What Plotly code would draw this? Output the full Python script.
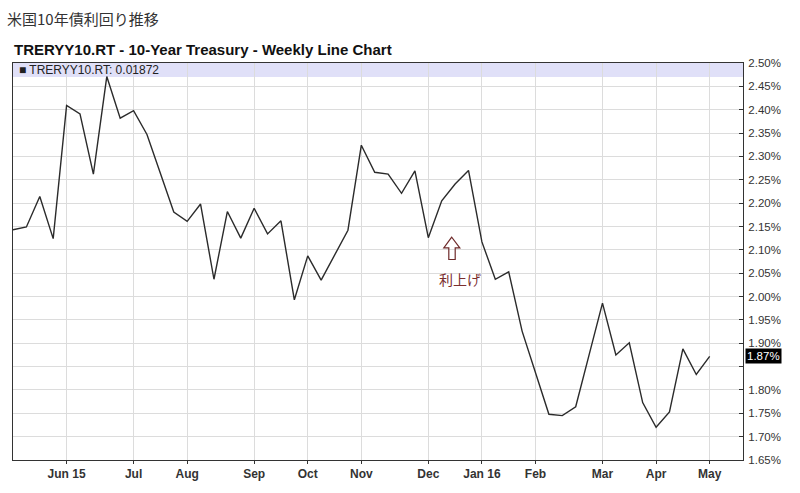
import pandas as pd
import plotly.graph_objects as go

# ---- data ----
start_week = "2015-05-04"
yields = [2.143, 2.149, 2.214, 2.124, 2.409, 2.391, 2.262, 2.471, 2.382, 2.398,
          2.347, 2.265, 2.181, 2.161, 2.198, 2.037, 2.182, 2.125, 2.189, 2.134,
          2.162, 1.993, 2.087, 2.035, 2.090, 2.142, 2.324, 2.266, 2.262, 2.221,
          2.269, 2.126, 2.205, 2.241, 2.270, 2.117, 2.037, 2.053, 1.926, 1.838,
          1.748, 1.745, 1.764, 1.875, 1.986, 1.875, 1.901, 1.773, 1.720, 1.753,
          1.888, 1.833, 1.872]
dates = pd.date_range(start_week, periods=len(yields), freq="7D")

tick_dates = ["2015-06-01", "2015-07-06", "2015-08-03", "2015-09-07", "2015-10-05",
              "2015-11-02", "2015-12-07", "2016-01-04", "2016-02-01", "2016-03-07",
              "2016-04-04", "2016-05-02"]
tick_labels = ["Jun 15", "Jul", "Aug", "Sep", "Oct", "Nov", "Dec", "Jan 16",
               "Feb", "Mar", "Apr", "May"]

y_ticks = [round(1.65 + 0.05 * i, 2) for i in range(18)]
y_labels = ["" if abs(v - 1.85) < 1e-9 else f"{v:.2f}%" for v in y_ticks]

main_title = "米国10年債利回り推移"
chart_title = "TRERYY10.RT - 10-Year Treasury - Weekly Line Chart"
legend_text = "■ TRERYY10.RT: 0.01872"
note_text = "利上げ"
last_val = yields[-1]

# ---- figure ----
W, H = 800, 493
L, R, T, B = 13, 57, 63, 30
pw, ph = W - L - R, H - T - B

def px(x):
    return (x - L) / pw

def py(y):
    return (H - B - y) / ph

fig = go.Figure()
fig.add_trace(go.Scatter(x=dates, y=yields, mode="lines",
                         line=dict(color="#2b2b2b", width=1.4),
                         hoverinfo="x+y", showlegend=False))

font_family = "Liberation Sans, Arial, sans-serif"

fig.update_layout(
    width=W, height=H,
    margin=dict(l=L, r=R, t=T, b=B),
    paper_bgcolor="white", plot_bgcolor="white",
    showlegend=False,
    font=dict(family=font_family, color="#222"),
    xaxis=dict(
        type="date",
        range=["2015-05-04", "2016-05-19 10:00"],
        tickmode="array", tickvals=tick_dates, ticktext=tick_labels,
        tickfont=dict(size=12, family=font_family, color="#333", weight="bold"),
        ticks="outside", ticklen=3, tickcolor="#333",
        showgrid=True, gridcolor="#dcdcdc", gridwidth=1,
        showline=True, linecolor="#333", linewidth=1, mirror=True,
        zeroline=False,
    ),
    yaxis=dict(
        side="right",
        range=[1.65, 2.50],
        tickmode="array", tickvals=y_ticks, ticktext=y_labels,
        tickfont=dict(size=11.5, family=font_family, color="#333"),
        ticks="inside", ticklen=4, tickcolor="#333",
        ticklabelstandoff=2,
        showgrid=True, gridcolor="#dcdcdc", gridwidth=1,
        showline=True, linecolor="#333", linewidth=1, mirror=True,
        zeroline=False,
    ),
    shapes=[
        dict(type="rect", xref="paper", yref="paper",
             x0=0, x1=1, y0=1 - 14 / ph, y1=1,
             fillcolor="#e0e0f8", line=dict(width=0), layer="below"),
        dict(type="path", xref="paper", yref="paper",
             path=(f"M {px(451.7)} {py(238.5)} L {px(443.8)} {py(249.3)} "
                   f"L {px(448.8)} {py(249.3)} L {px(448.8)} {py(261)} "
                   f"L {px(455.2)} {py(261)} L {px(455.2)} {py(249.3)} "
                   f"L {px(459.8)} {py(249.3)} Z"),
             line=dict(color="#6e2a2a", width=1.2), fillcolor="rgba(0,0,0,0)",
             layer="above"),
    ],
    annotations=[
        dict(text=main_title, xref="paper", yref="paper", x=px(5), y=py(18),
             xanchor="left", yanchor="middle", showarrow=False,
             font=dict(size=15, family="Noto Sans CJK JP", color="#333")),
        dict(text=chart_title, xref="paper", yref="paper", x=px(12), y=py(49),
             xanchor="left", yanchor="middle", showarrow=False,
             font=dict(size=15, family=font_family, color="#111", weight="bold")),
        dict(text=legend_text, xref="paper", yref="paper", x=px(17), y=py(70.5),
             xanchor="left", yanchor="middle", showarrow=False,
             font=dict(size=12, family=font_family, color="#222")),
        dict(text=note_text, xref="paper", yref="paper", x=px(460), y=py(281),
             xanchor="center", yanchor="middle", showarrow=False,
             font=dict(size=14, family="Noto Sans CJK JP", color="#7a2e2e")),
        dict(text=f"{last_val:.2f}%", xref="paper", yref="y", x=1, y=last_val,
             xanchor="left", yanchor="middle", showarrow=False, xshift=2,
             bgcolor="#000", borderpad=1,
             font=dict(size=11.5, family=font_family, color="white")),
    ],
)

fig.write_html("out.html")
